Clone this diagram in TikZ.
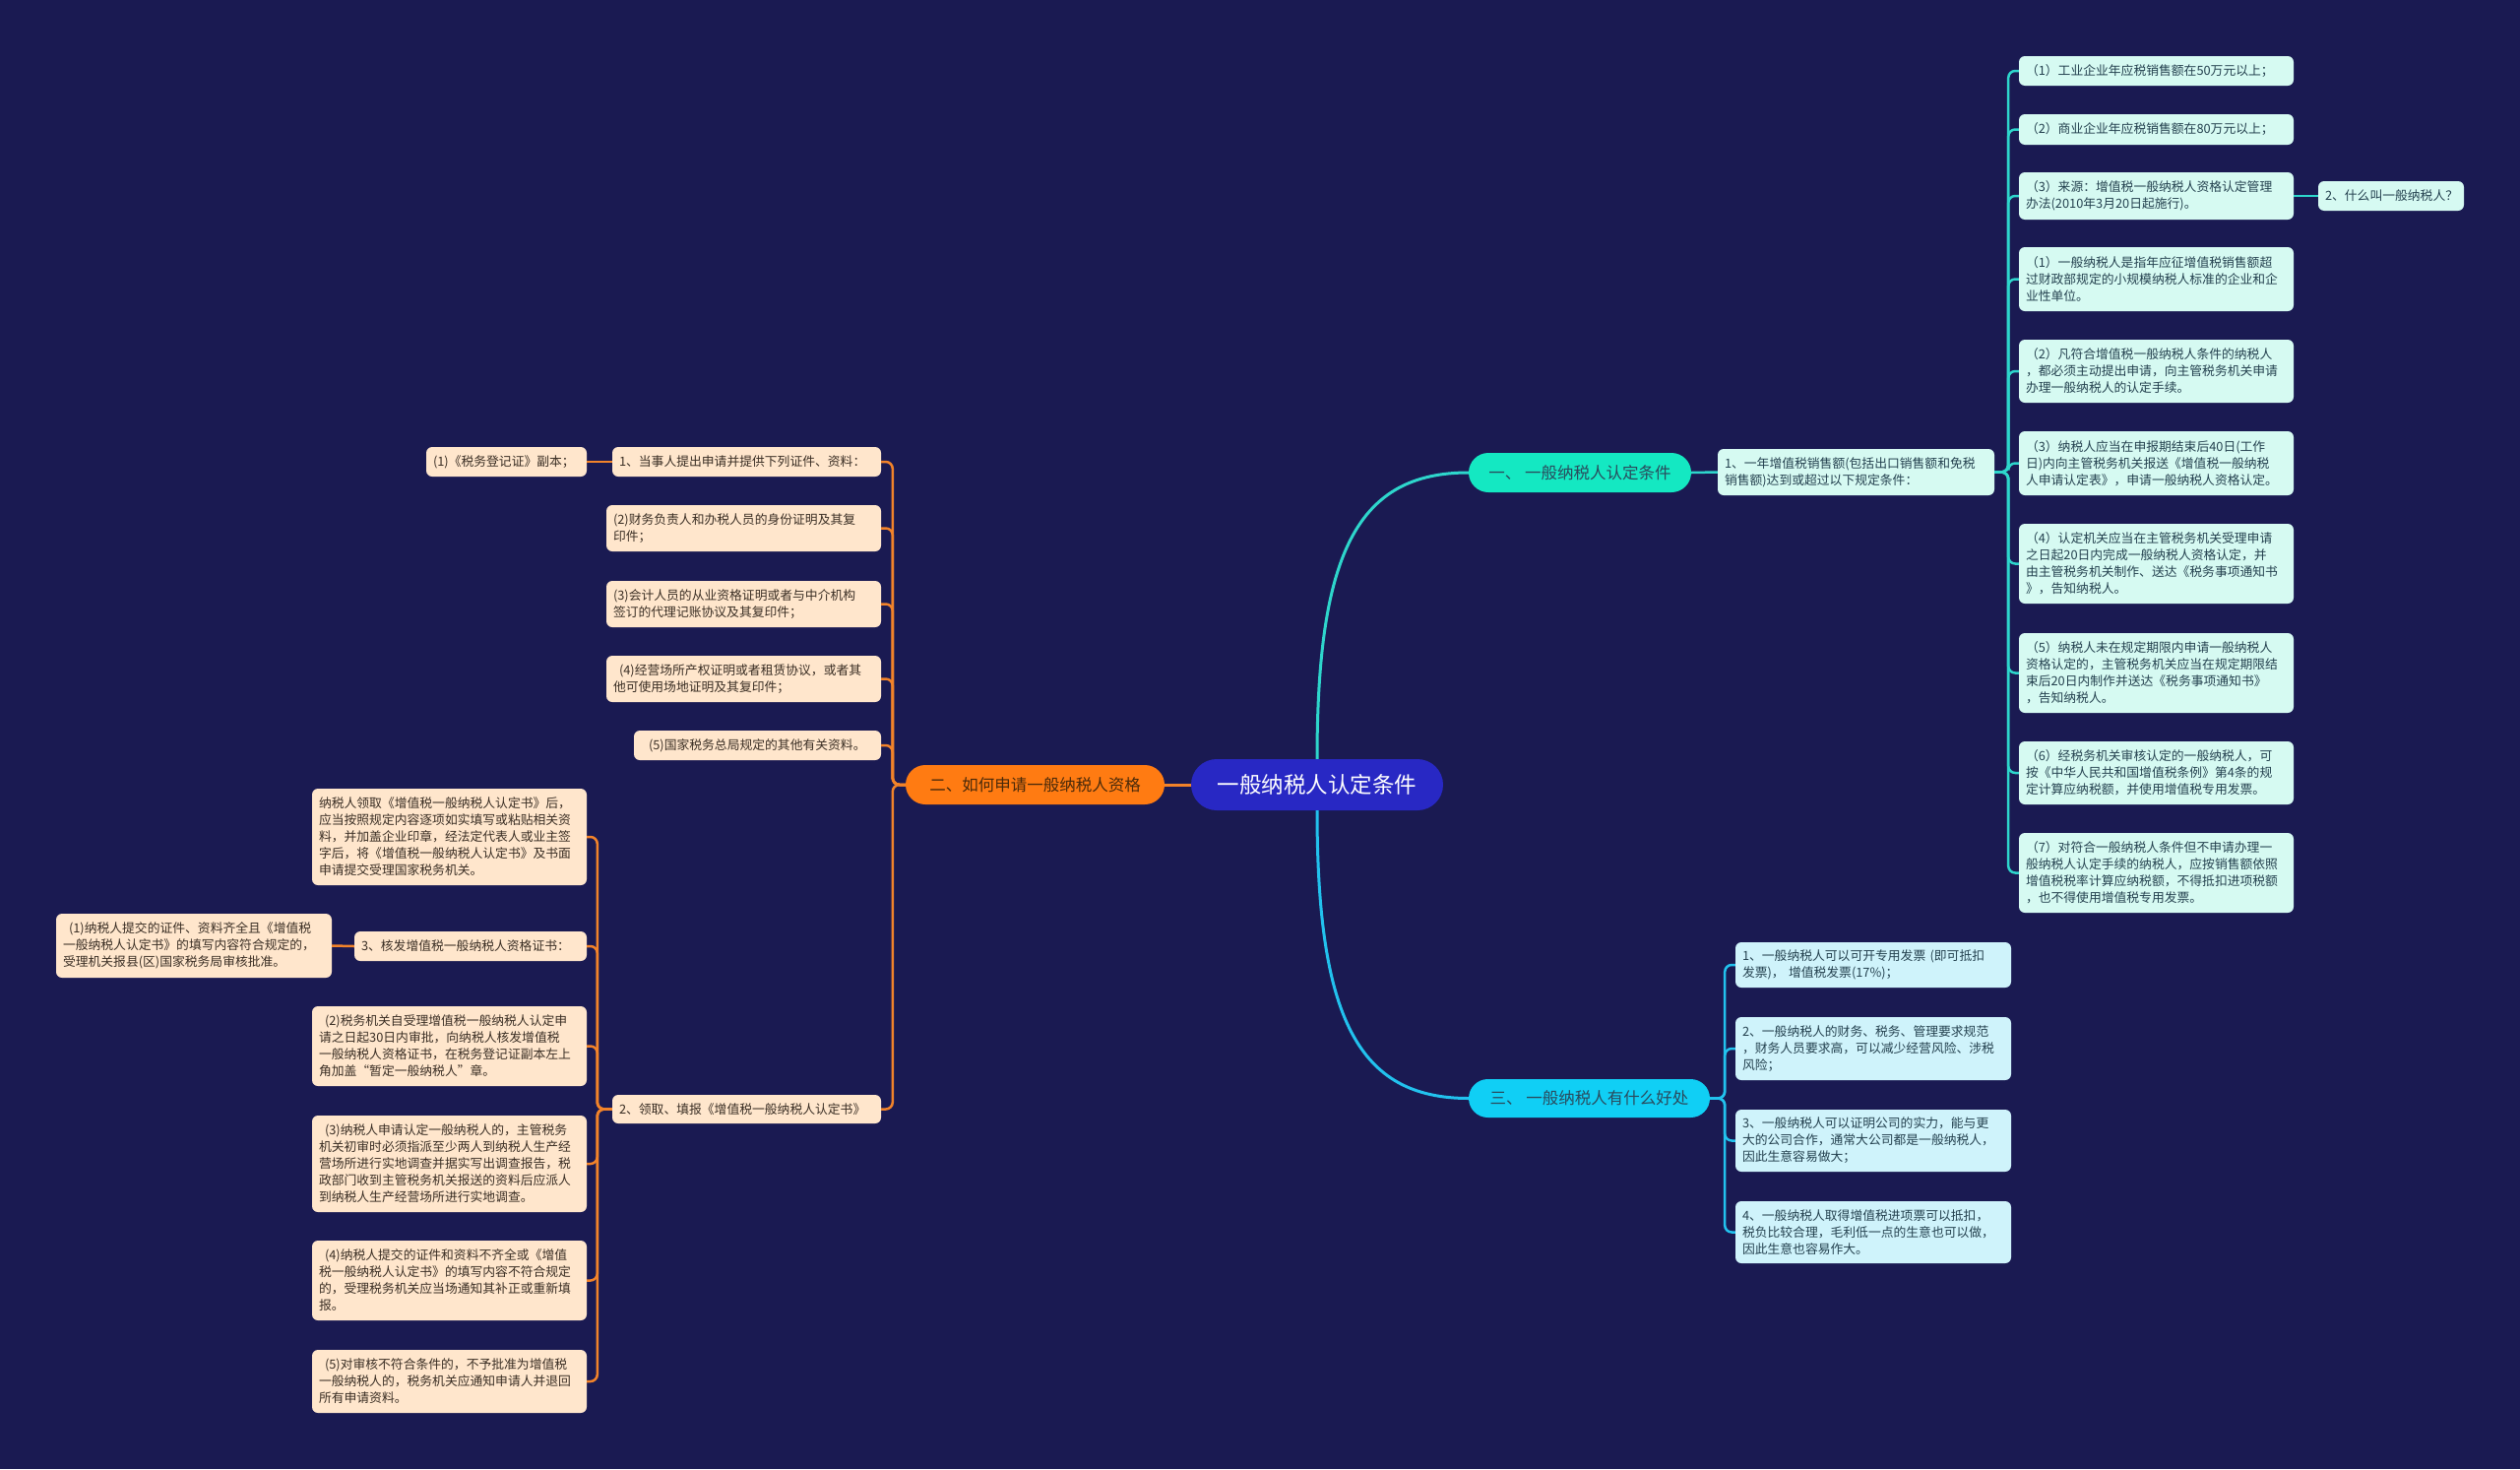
\documentclass[tikz,border=0pt]{standalone}
\usepackage{fontspec}
\setmainfont{Noto Sans CJK SC}
\definecolor{bg}{HTML}{1A1A52}
\definecolor{rootfill}{HTML}{2828C4}
\definecolor{bonefill}{HTML}{14E8C2}
\definecolor{btwofill}{HTML}{FF7B12}
\definecolor{bthreefill}{HTML}{10CFF5}
\definecolor{leafmint}{HTML}{D6FAF2}
\definecolor{leafblue}{HTML}{CFF3FB}
\definecolor{leafpeach}{HTML}{FFE6CC}
\definecolor{connmint}{HTML}{2ED6CC}
\definecolor{connblue}{HTML}{22C2EE}
\definecolor{connorange}{HTML}{F2832A}
\definecolor{txtmint}{HTML}{24414F}
\definecolor{txtpeach}{HTML}{3A2E24}
\definecolor{pilltxt}{HTML}{2A4A5C}
\definecolor{pilltxtor}{HTML}{4A2A0A}
\begin{document}
\begin{tikzpicture}[x=1pt,y=-1pt,
  leafbase/.style={rounded corners=6pt, align=left, inner xsep=7pt, inner ysep=2pt,
    font=\fontsize{12.8}{17}\selectfont},
  leafA/.style={leafbase, fill=leafmint, text=txtmint},
  leafC/.style={leafbase, fill=leafblue, text=txtmint},
  leafB/.style={leafbase, fill=leafpeach, text=txtpeach},
  pill/.style={inner sep=0pt, font=\fontsize{16.5}{20}\selectfont},
  cA/.style={draw=connmint, line width=2.5pt, rounded corners=7pt},
  cC/.style={draw=connblue, line width=2.5pt, rounded corners=7pt},
  cB/.style={draw=connorange, line width=2.5pt, rounded corners=7pt}
]
\useasboundingbox (0,0) rectangle (2560,1492);
\fill[bg] (0,0) rectangle (2560,1492);

% ---------- root and main branches ----------
\node[pill, fill=rootfill, text=white, rounded corners=26pt, minimum width=256pt, minimum height=52pt,
  font=\fontsize{22.5}{26}\selectfont] (root) at (1338,797) {一般纳税人认定条件};
\node[pill, fill=bonefill, text=pilltxt, rounded corners=20pt, minimum width=226pt, minimum height=40pt] (b1) at (1605,480) {一、 一般纳税人认定条件};
\node[pill, fill=btwofill, text=pilltxtor, rounded corners=20pt, minimum width=263pt, minimum height=40pt] (b2) at (1051.5,797) {二、如何申请一般纳税人资格};
\node[pill, fill=bthreefill, text=pilltxt, rounded corners=19.5pt, minimum width=245pt, minimum height=39pt] (b3) at (1614.5,1115.5) {三、 一般纳税人有什么好处};

% ---------- branch one ----------
\node[leafA, text width=267pt, minimum height=47pt] (n1) at (1885.5,479.5) {1、一年增值税销售额(包括出口销售额和免税\\销售额)达到或超过以下规定条件：};
\node[leafA, text width=265pt, minimum height=30pt] (c1) at (2190.5,72) {（1）工业企业年应税销售额在50万元以上；};
\node[leafA, text width=265pt, minimum height=31pt] (c2) at (2190.5,131.5) {（2）商业企业年应税销售额在80万元以上；};
\node[leafA, text width=265pt, minimum height=48pt] (c3) at (2190.5,199) {（3）来源：增值税一般纳税人资格认定管理\\办法(2010年3月20日起施行)。};
\node[leafA, text width=134pt, minimum height=30pt] (c3c) at (2429,199) {2、什么叫一般纳税人？};
\node[leafA, text width=265pt, minimum height=65pt] (c4) at (2190.5,283.5) {（1）一般纳税人是指年应征增值税销售额超\\过财政部规定的小规模纳税人标准的企业和企\\业性单位。};
\node[leafA, text width=265pt, minimum height=64pt] (c5) at (2190.5,377) {（2）凡符合增值税一般纳税人条件的纳税人\\，都必须主动提出申请，向主管税务机关申请\\办理一般纳税人的认定手续。};
\node[leafA, text width=265pt, minimum height=65pt] (c6) at (2190.5,470.5) {（3）纳税人应当在申报期结束后40日(工作\\日)内向主管税务机关报送《增值税一般纳税\\人申请认定表》，申请一般纳税人资格认定。};
\node[leafA, text width=265pt, minimum height=81pt] (c7) at (2190.5,572.5) {（4）认定机关应当在主管税务机关受理申请\\之日起20日内完成一般纳税人资格认定，并\\由主管税务机关制作、送达《税务事项通知书\\》，告知纳税人。};
\node[leafA, text width=265pt, minimum height=81pt] (c8) at (2190.5,683.5) {（5）纳税人未在规定期限内申请一般纳税人\\资格认定的，主管税务机关应当在规定期限结\\束后20日内制作并送达《税务事项通知书》\\，告知纳税人。};
\node[leafA, text width=265pt, minimum height=64pt] (c9) at (2190.5,785) {（6）经税务机关审核认定的一般纳税人，可\\按《中华人民共和国增值税条例》第4条的规\\定计算应纳税额，并使用增值税专用发票。};
\node[leafA, text width=265pt, minimum height=81pt] (c10) at (2190.5,886.5) {（7）对符合一般纳税人条件但不申请办理一\\般纳税人认定手续的纳税人，应按销售额依照\\增值税税率计算应纳税额，不得抵扣进项税额\\，也不得使用增值税专用发票。};

% ---------- branch three ----------
\node[leafC, text width=266pt, minimum height=46pt] (d1) at (1903,980) {1、一般纳税人可以可开专用发票 (即可抵扣\\发票)， 增值税发票(17\%)；};
\node[leafC, text width=266pt, minimum height=64pt] (d2) at (1903,1065) {2、一般纳税人的财务、税务、管理要求规范\\，财务人员要求高，可以减少经营风险、涉税\\风险；};
\node[leafC, text width=266pt, minimum height=63pt] (d3) at (1903,1158.5) {3、一般纳税人可以证明公司的实力，能与更\\大的公司合作，通常大公司都是一般纳税人，\\因此生意容易做大；};
\node[leafC, text width=266pt, minimum height=63pt] (d4) at (1903,1251.5) {4、一般纳税人取得增值税进项票可以抵扣，\\税负比较合理，毛利低一点的生意也可以做，\\因此生意也容易作大。};

% ---------- branch two ----------
\node[leafB, text width=259pt, minimum height=30pt] (e1) at (758.5,469) {1、当事人提出申请并提供下列证件、资料：};
\node[leafB, text width=149pt, minimum height=30pt] (e1c) at (514.5,469) {(1)《税务登记证》副本；};
\node[leafB, text width=265pt, minimum height=47pt] (e2) at (755.5,536.5) {(2)财务负责人和办税人员的身份证明及其复\\印件；};
\node[leafB, text width=265pt, minimum height=47pt] (e3) at (755.5,613.5) {(3)会计人员的从业资格证明或者与中介机构\\签订的代理记账协议及其复印件；};
\node[leafB, text width=265pt, minimum height=47pt] (e4) at (755.5,689.5) {\hspace*{6pt}(4)经营场所产权证明或者租赁协议，或者其\\他可使用场地证明及其复印件；};
\node[leafB, text width=237pt, minimum height=30pt] (e5) at (769.5,757) {\hspace*{8pt}(5)国家税务总局规定的其他有关资料。};
\node[leafB, text width=259pt, minimum height=29pt] (e6) at (758.5,1126.5) {2、领取、填报《增值税一般纳税人认定书》};

\node[leafB, text width=265pt, minimum height=98pt] (f1) at (456.5,850) {纳税人领取《增值税一般纳税人认定书》后，\\应当按照规定内容逐项如实填写或粘贴相关资\\料，并加盖企业印章，经法定代表人或业主签\\字后，将《增值税一般纳税人认定书》及书面\\申请提交受理国家税务机关。};
\node[leafB, text width=222pt, minimum height=30pt] (f2) at (478,961) {3、核发增值税一般纳税人资格证书：};
\node[leafB, text width=266pt, minimum height=65pt] (f2c) at (197,960.5) {\hspace*{6pt}(1)纳税人提交的证件、资料齐全且《增值税\\一般纳税人认定书》的填写内容符合规定的，\\受理机关报县(区)国家税务局审核批准。};
\node[leafB, text width=265pt, minimum height=81pt] (f3) at (456.5,1062.5) {\hspace*{6pt}(2)税务机关自受理增值税一般纳税人认定申\\请之日起30日内审批，向纳税人核发增值税\\一般纳税人资格证书，在税务登记证副本左上\\角加盖“暂定一般纳税人”章。};
\node[leafB, text width=265pt, minimum height=98pt] (f4) at (456.5,1182) {\hspace*{6pt}(3)纳税人申请认定一般纳税人的，主管税务\\机关初审时必须指派至少两人到纳税人生产经\\营场所进行实地调查并据实写出调查报告，税\\政部门收到主管税务机关报送的资料后应派人\\到纳税人生产经营场所进行实地调查。};
\node[leafB, text width=265pt, minimum height=81pt] (f5) at (456.5,1300.5) {\hspace*{6pt}(4)纳税人提交的证件和资料不齐全或《增值\\税一般纳税人认定书》的填写内容不符合规定\\的，受理税务机关应当场通知其补正或重新填\\报。};
\node[leafB, text width=265pt, minimum height=64pt] (f6) at (456.5,1403) {\hspace*{6pt}(5)对审核不符合条件的，不予批准为增值税\\一般纳税人的，税务机关应通知申请人并退回\\所有申请资料。};

% ---------- connectors ----------
\draw[draw=connmint, line width=3pt] (root.north) .. controls +(0,-211) and +(-112,0) .. (b1.west);
\draw[draw=connblue, line width=3pt] (root.south) .. controls +(0,211) and +(-112,0) .. (b3.west);
\draw[draw=connorange, line width=3pt] (root.west) -- (b2.east);

\draw[cA] (b1.east) -- (n1.west);
\foreach \c in {c1,c2,c3,c4,c5,c6,c7,c8,c9,c10}
  \draw[cA] (n1.east) -- ++(14,0) |- (\c.west);
\draw[cA] (c3.east) -- (c3c.west);

\foreach \c in {d1,d2,d3,d4}
  \draw[cC] (b3.east) -- ++(15,0) |- (\c.west);

\foreach \c in {e1,e2,e3,e4,e5,e6}
  \draw[cB] (b2.west) -- ++(-13,0) |- (\c.east);
\draw[cB] (e1.west) -- (e1c.east);
\foreach \c in {f1,f2,f3,f4,f5,f6}
  \draw[cB] (e6.west) -- ++(-15,0) |- (\c.east);
\draw[cB] (f2.west) -- (f2c.east);
\end{tikzpicture}
\end{document}
